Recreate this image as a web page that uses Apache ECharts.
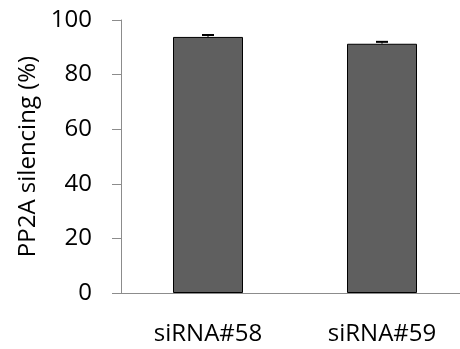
<!DOCTYPE html>
<html>
<head>
<meta charset="utf-8">
<script src="https://cdn.jsdelivr.net/npm/echarts@6/dist/echarts.min.js"></script>
<style>html,body{margin:0;padding:0;background:#fff;}#c{width:460px;height:349px;}</style>
</head>
<body>
<div id="c"></div>
<script>
const categories = ['siRNA#58', 'siRNA#59'];
const values = [93.8, 91.3];
const errors = [0.7, 0.7];
const yTicks = [0, 20, 40, 60, 80, 100];

const chart = echarts.init(document.getElementById('c'), null, {renderer: 'canvas'});
const font = '"Open Sans", "Liberation Sans", sans-serif';
chart.setOption({
  animation: false,
  backgroundColor: '#fff',
  grid: {left: 121, top: 20, width: 348, height: 273, outerBoundsMode: 'none', containLabel: false},
  xAxis: {
    type: 'category',
    data: categories,
    axisLine: {show: true, lineStyle: {color: '#8c8c8c', width: 1}},
    axisTick: {show: false},
    axisLabel: {color: '#000', fontSize: 24, fontFamily: font, margin: 29}
  },
  yAxis: {
    type: 'value',
    min: yTicks[0], max: yTicks[yTicks.length - 1], interval: 20,
    name: 'PP2A silencing (%)',
    nameLocation: 'middle',
    nameRotate: 90,
    nameGap: 80,
    nameTextStyle: {color: '#000', fontSize: 24, fontFamily: font},
    axisLine: {show: true, lineStyle: {color: '#8c8c8c', width: 1}},
    axisTick: {show: true, length: 9, lineStyle: {color: '#8c8c8c'}},
    splitLine: {show: false},
    axisLabel: {color: '#000', fontSize: 24, fontFamily: font, margin: 29}
  },
  series: [
    {
      type: 'bar',
      data: values,
      barWidth: 70,
      itemStyle: {color: '#5f5f5f', borderColor: '#000', borderWidth: 1}
    },
    {
      type: 'custom',
      data: values.map((v, i) => [i, v, errors[i]]),
      z: 10,
      renderItem: function (params, api) {
        const x = api.value(0), v = api.value(1), e = api.value(2);
        const top = api.coord([x, v + e]);
        const bot = api.coord([x, v]);
        const hw = 6;
        return {
          type: 'group',
          children: [
            {type: 'line', shape: {x1: top[0], y1: top[1], x2: bot[0], y2: bot[1]}, style: {stroke: '#000', lineWidth: 1}},
            {type: 'line', shape: {x1: top[0] - hw, y1: top[1], x2: top[0] + hw, y2: top[1]}, style: {stroke: '#000', lineWidth: 2}}
          ]
        };
      }
    }
  ]
});
</script>
</body>
</html>
